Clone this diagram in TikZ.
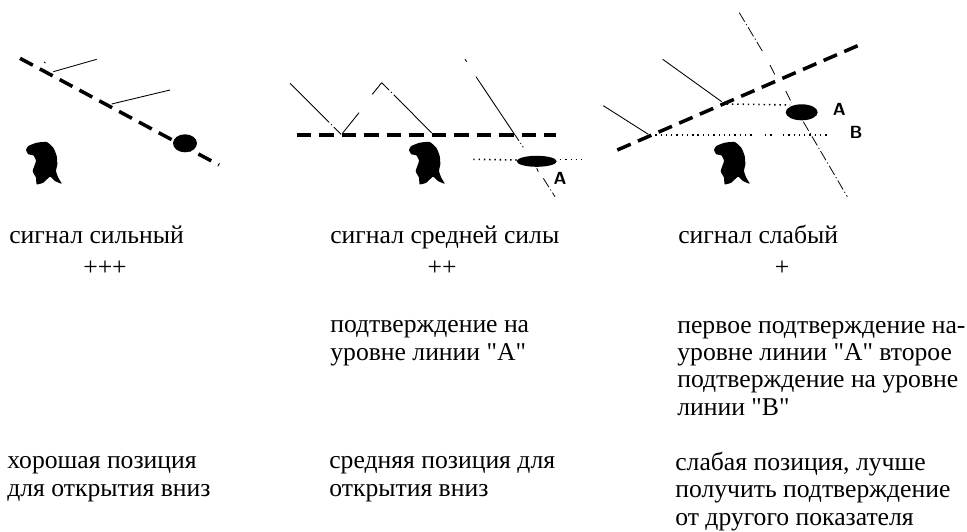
\documentclass[tikz,border=0pt]{standalone}
\usepackage{fontspec}
\setmainfont[Ligatures=TeXOff]{Liberation Serif}
\newcommand{\bearblob}[2]{\fill [black, shift={(#1,#2)}, yscale=-1] plot [smooth cycle, tension=0.3] coordinates {(0,7.3) (2.3,3.3) (10.7,0) (20.7,-0.7) (27.3,5) (30.7,13.3) (31.3,21.6) (30,28.3) (32.3,35) (35.7,41) (29,38.3) (24,34) (17.3,40) (10.7,41.6) (10,35) (6.7,28.3) (10,18.3) (7.3,12.6) (2.3,11.6)};}
\tikzset{
  trendline/.style={black, line width=2pt, dash pattern=on 8.3pt off 4.5pt},
  priceline/.style={black, line width=0.5pt},
  dashdotline/.style={black, line width=0.45pt, dash pattern=on 6pt off 1.5pt on 0.7pt off 1.5pt},
  dotline/.style={black, line width=0.9pt, dash pattern=on 0.8pt off 2.2pt},
  caption/.style={anchor=base west, inner sep=0pt, align=left, font=\fontsize{14.6pt}{15.5pt}\selectfont},
  plusmark/.style={inner sep=0pt, font=\fontsize{14.6pt}{15.5pt}\selectfont},
  letter/.style={inner sep=0pt, font=\fontsize{10pt}{10pt}\sffamily\bfseries}
}
\begin{document}
\begin{tikzpicture}[x=0.02cm,y=0.02cm]
    \useasboundingbox (0,0) rectangle (967,-531);
    % left panel
    \coordinate (a1) at (20,-58.3);
    \coordinate (a2) at (219,-165);
    \draw [trendline] (a1) -- (a2);
    \draw [priceline] (53.3,-71.7) -- (96.7,-59.3);
    \draw [priceline] (111.7,-104) -- (170,-90);
    \draw [priceline] (44,-62) -- (45.5,-63);
    \fill [black] (185,-143.3) ellipse (12 and 9);
    \bearblob{26}{-142.7}
    % middle panel
    \coordinate (b1) at (296.7,-135);
    \coordinate (b2) at (556,-135);
    \draw [trendline] (b1) -- (b2);
    \draw [priceline] (290,-83.3) -- (321.7,-115);
    \draw [dashdotline] (321.7,-115) -- (341.7,-135);
    \draw [priceline] (342.7,-133) -- (359,-112.7);
    \draw [priceline] (372.3,-94.3) -- (381.7,-82.7);
    \draw [dashdotline] (381.7,-82.7) -- (400,-101);
    \draw [priceline] (400,-101) -- (431.7,-133);
    \draw [priceline] (465,-59.3) -- (466.7,-61.7);
    \draw [priceline] (476,-76.7) -- (513,-132);
    \draw [dashdotline] (513,-132) -- (523.3,-147.3);
    \draw [priceline] (536.7,-168.3) -- (538.3,-171.7);
    \draw [dashdotline] (543.3,-178.3) -- (555,-196.7);
    \draw [dotline] (473.3,-159.3) -- (516.7,-160);
    \draw [dotline] (560,-159.3) -- (581.7,-159.3);
    \fill [black] (536.7,-161.3) ellipse (20 and 5.5);
    \node [letter] (lineA) at (560,-178) {A};
    \bearblob{409}{-142.7}
    % right panel
    \coordinate (c1) at (617.3,-150);
    \coordinate (c2) at (857.7,-45.7);
    \draw [trendline] (c1) -- (c2);
    \draw [priceline] (662.7,-59.3) -- (721.7,-101.7);
    \draw [priceline] (603.3,-105.7) -- (648.3,-134.3);
    \draw [dashdotline] (739.3,-12.7) -- (762.7,-51.7);
    \draw [dashdotline] (770,-65) -- (775,-75);
    \draw [dashdotline] (785.7,-91) -- (791.7,-103);
    \draw [dashdotline] (803.3,-121.7) -- (847.3,-196.7);
    \draw [dotline] (726.7,-104) -- (790,-105);
    \draw [dotline] (650,-135) -- (755,-135);
    \draw [dotline] (765,-135) -- (773,-135);
    \draw [dotline] (783,-135) -- (828.3,-135);
    \fill [black] (801.7,-112.3) ellipse (16 and 8);
    \node [letter] (lineB) at (856,-132.3) {B};
    \node [letter] (lineC) at (839.3,-109.3) {A};
    \bearblob{714}{-142.7}
    % captions
    \node [caption] (sigone) at (9,-243) {сигнал сильный};
    \node [caption] (sigtwo) at (330,-243) {сигнал средней силы};
    \node [caption] (sigthree) at (678,-243) {сигнал слабый};
    \node [plusmark] (plusone) at (105,-268) {+++};
    \node [plusmark] (plustwo) at (442,-268) {++};
    \node [plusmark] (plusthree) at (782,-268) {+};
    \node [caption] (conftwo) at (330,-360) {подтверждение на\\уровне линии "A"};
    \node [caption] (confthree) at (677,-415) {первое подтверждение на-\\уровне линии "A" второе\\подтверждение на уровне\\линии "B"};
    \node [caption] (posone) at (7,-496) {хорошая позиция\\для открытия вниз};
    \node [caption] (postwo) at (329,-496) {средняя позиция для\\открытия вниз};
    \node [caption] (posthree) at (675,-525) {слабая позиция, лучше\\получить подтверждение\\от другого показателя};
\end{tikzpicture}
\end{document}
